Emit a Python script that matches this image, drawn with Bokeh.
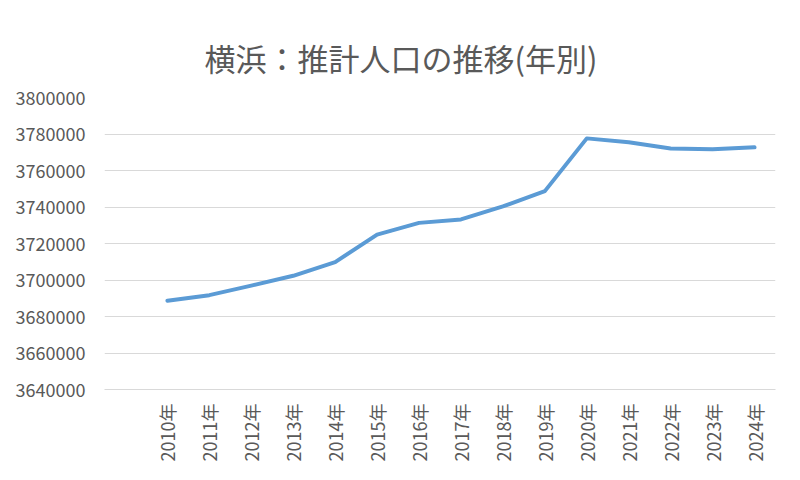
import math
from bokeh.plotting import figure
from bokeh.models import Range1d, FixedTicker, BasicTickFormatter
from bokeh.embed import file_html
from bokeh.resources import INLINE

title_text = "横浜：推計人口の推移(年別)"
years = ["2010年", "2011年", "2012年", "2013年", "2014年", "2015年", "2016年", "2017年",
         "2018年", "2019年", "2020年", "2021年", "2022年", "2023年", "2024年"]
population = [3688600, 3691700, 3696900, 3702300, 3709800, 3724900, 3731300, 3733200,
              3740300, 3748700, 3777600, 3775500, 3772100, 3771700, 3772700]
y_ticks = [3640000, 3660000, 3680000, 3700000, 3720000, 3740000, 3760000, 3780000, 3800000]

# Excel category axis with one leading blank category slot
slots = len(years) + 1
xs = [i + 1.5 for i in range(len(years))]

FONT = "Noto Sans CJK JP"
GREY = "#595959"

p = figure(width=784, height=464, output_backend="svg", toolbar_location=None,
           x_range=Range1d(0, slots), y_range=Range1d(y_ticks[0], y_ticks[-1]),
           min_border_left=104, min_border_right=9, min_border_top=97, min_border_bottom=73)
p.background_fill_color = "white"
p.border_fill_color = "white"
p.outline_line_color = None

p.title.text = title_text
p.title.align = "left"
p.title.vertical_align = "top"
p.title.text_font = FONT
p.title.text_font_size = "31px"
p.title.text_font_style = "normal"
p.title.text_color = GREY
p.title.offset = 100
p.title.standoff = 32

p.xgrid.visible = False
p.ygrid.grid_line_color = "#d9d9d9"
p.ygrid.grid_line_width = 1

ya = p.yaxis[0]
ya.ticker = FixedTicker(ticks=y_ticks)
ya.formatter = BasicTickFormatter(use_scientific=False)
ya.axis_line_color = None
ya.major_tick_line_color = None
ya.minor_tick_line_color = None
ya.major_tick_out = 0
ya.major_tick_in = 0
ya.major_label_standoff = 19
ya.major_label_text_font = FONT
ya.major_label_text_font_size = "18px"
ya.major_label_text_color = GREY

xa = p.xaxis[0]
xa.ticker = FixedTicker(ticks=xs)
xa.major_label_overrides = {x: lab for x, lab in zip(xs, years)}
xa.major_label_orientation = math.pi / 2
xa.axis_line_color = "#d9d9d9"
xa.axis_line_width = 1
xa.major_tick_line_color = None
xa.minor_tick_line_color = None
xa.major_tick_out = 0
xa.major_tick_in = 0
xa.major_label_standoff = 14
xa.major_label_text_font = FONT
xa.major_label_text_font_size = "18px"
xa.major_label_text_color = GREY

p.line(xs, population, line_color="#5b9bd5", line_width=4, line_join="round", line_cap="round")

open("out.html", "w").write(file_html(p, INLINE))
